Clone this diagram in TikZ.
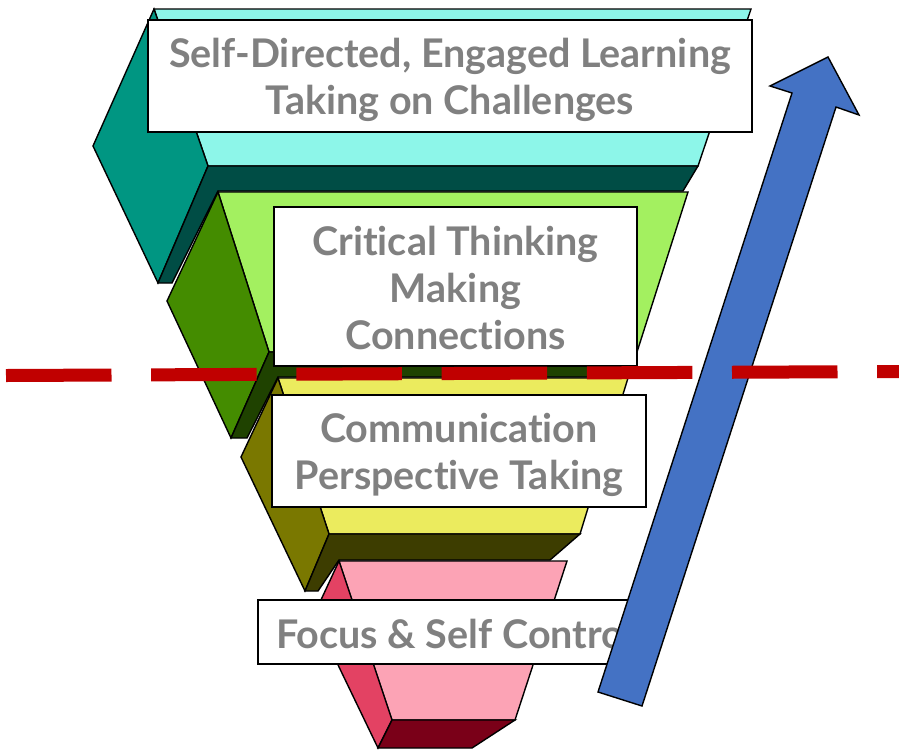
\documentclass[tikz,border=0pt]{standalone}
\usepackage{fontspec}
\setmainfont{Lato}[Ligatures=NoCommon]
\definecolor{cyanfront}{RGB}{141,246,233}
\definecolor{cyanside}{RGB}{0,150,130}
\definecolor{cyandark}{RGB}{0,77,69}
\definecolor{greenfront}{RGB}{163,240,96}
\definecolor{greenside}{RGB}{68,140,0}
\definecolor{greendark}{RGB}{31,66,0}
\definecolor{yellowfront}{RGB}{235,235,94}
\definecolor{yellowside}{RGB}{122,120,0}
\definecolor{yellowdark}{RGB}{61,61,0}
\definecolor{pinkfront}{RGB}{252,163,181}
\definecolor{pinkside}{RGB}{227,66,99}
\definecolor{pinkdark}{RGB}{122,0,24}
\definecolor{arrowblue}{RGB}{68,114,196}
\definecolor{cutred}{RGB}{192,0,0}
\definecolor{textgray}{RGB}{128,128,128}
\begin{document}
\begin{tikzpicture}[x=1pt,y=-1pt,
  face/.style={draw=black, line width=1.4pt},
  labelbox/.style={draw=black, line width=1.4pt, fill=white, inner sep=0pt},
  labeltext/.style={inner sep=0pt, align=center, text=textgray,
    font=\fontsize{39.5}{47}\selectfont\bfseries},
  cutline/.style={draw=cutred, line width=13pt, dash pattern=on 105.5pt off 39.7pt}]
\useasboundingbox (0,0) rectangle (899,750);

% level 1: cyan block
\draw[face, fill=cyanfront] (154,9) -- (751,9) -- (698,166) -- (208,166) -- cycle;
\draw[face, fill=cyanside] (154,9) -- (93,146) -- (158,283) -- (208,166) -- cycle;
\draw[face, fill=cyandark] (208,166) -- (698,166) -- (683,191) -- (218,191) -- (172,283) -- (158,283) -- cycle;

% level 2: green block
\draw[face, fill=greenfront] (218,192) -- (688,192) -- (637,352) -- (269,352) -- cycle;
\draw[face, fill=greenside] (218,192) -- (167,301) -- (231,438) -- (269,352) -- cycle;
\draw[face, fill=greendark] (269,352) -- (637,352) -- (628,377) -- (278,377) -- (247,438) -- (231,438) -- cycle;

% level 3: yellow block
\draw[face, fill=yellowfront] (278,378) -- (628,378) -- (580,534) -- (329,534) -- cycle;
\draw[face, fill=yellowside] (278,378) -- (241,457) -- (305,591) -- (329,534) -- cycle;
\draw[face, fill=yellowdark] (329,534) -- (580,534) -- (550,560) -- (339,560) -- (318,591) -- (305,591) -- cycle;

% level 4: pink block
\draw[face, fill=pinkfront] (339,561) -- (567,561) -- (515,720) -- (392,720) -- cycle;
\draw[face, fill=pinkside] (339,561) -- (314,615) -- (378,748) -- (392,720) -- cycle;
\draw[face, fill=pinkdark] (392,720) -- (515,720) -- (472,748) -- (378,748) -- cycle;

% label boxes
\node[labelbox, minimum width=604pt, minimum height=112pt] (self) at (450,76) {};
\node[labelbox, minimum width=363pt, minimum height=159pt] (crit) at (455.5,286.5) {};
\node[labelbox, minimum width=374pt, minimum height=112pt] (comm) at (459,451) {};
\node[labelbox, minimum width=394pt, minimum height=64pt] (focus) at (455,632) {};

% label texts
\node[labeltext, yshift=-3.5pt] (selftext) at (self.center)
  {Self-Directed, Engaged Learning\\Taking on Challenges};
\node[labeltext, yshift=-1pt] (crittext) at (crit.center)
  {Critical Thinking\\Making\\Connections};
\node[labeltext, yshift=-4pt] (commtext) at (comm.center)
  {Communication\\Perspective Taking};
\node[labeltext, yshift=-2pt] (focustext) at (focus.center)
  {Focus \& Self Control};

% rising arrow
\draw[face, fill=arrowblue] (828,57) -- (859,115) -- (836,107) -- (642,706)
  -- (598,692) -- (792,93) -- (770,86) -- cycle;

% dashed divider
\coordinate (cutL) at (6,375.5);
\coordinate (cutR) at (899,371.5);
\draw[cutline] (cutL) -- (cutR);
\end{tikzpicture}
\end{document}
